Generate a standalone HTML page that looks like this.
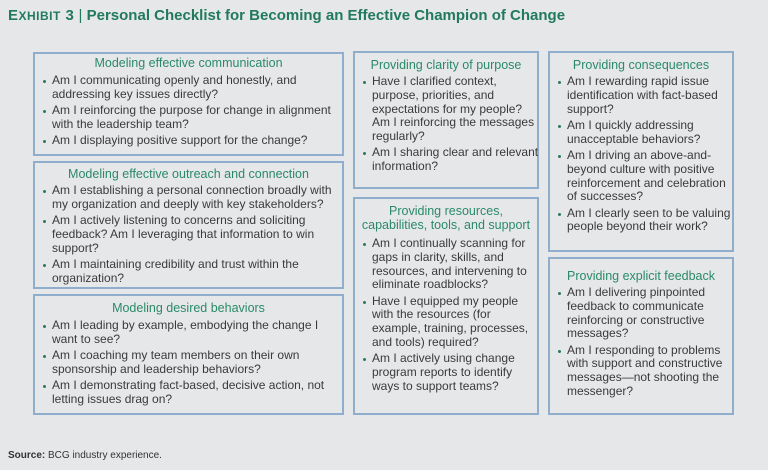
<!DOCTYPE html>
<html><head><meta charset="utf-8">
<style>
html,body{margin:0;padding:0;}
body{width:768px;height:470px;background:#e6e7e9;position:relative;overflow:hidden;font-family:"Liberation Sans",Arial,sans-serif;color:#3a3a3a;}
.title{position:absolute;left:8px;top:7px;font-size:15px;font-weight:bold;color:#217a5b;white-space:nowrap;}
.title .ex{letter-spacing:0.5px;}
.title .ex small{font-size:12px;}
.box{position:absolute;border:2px solid #8fadcc;box-sizing:border-box;background:#e6e7e9;}
.box h3{margin:0;font-weight:normal;font-size:12.5px;color:#2a8a68;text-align:center;line-height:14px;}
.item{position:relative;padding-left:13px;font-size:12px;line-height:13.8px;white-space:nowrap;margin-top:2.5px;}
.item:before{content:"";position:absolute;left:4px;top:6px;width:3px;height:3px;border-radius:50%;background:#2a7a5a;}
.src{position:absolute;left:8px;top:450px;font-size:10px;color:#333;}
</style></head><body>
<div class="title"><span class="ex">E<small>XHIBIT</small> 3</span> <span style="font-weight:normal;color:#217a5b">|</span> Personal Checklist for Becoming an Effective Champion of Change</div>

<div class="box" style="left:33px;top:52px;width:311px;height:104px;padding:2px 4px 0 4px">
<h3>Modeling effective communication</h3>
<div class="item" style="margin-top:4px">Am I communicating openly and honestly, and<br>addressing key issues directly?</div>
<div class="item">Am I reinforcing the purpose for change in alignment<br>with the leadership team?</div>
<div class="item">Am I displaying positive support for the change?</div>
</div>

<div class="box" style="left:33px;top:161px;width:311px;height:128px;padding:4px 4px 0 4px">
<h3>Modeling effective outreach and connection</h3>
<div class="item" style="margin-top:3px">Am I establishing a personal connection broadly with<br>my organization and deeply with key stakeholders?</div>
<div class="item">Am I actively listening to concerns and soliciting<br>feedback? Am I leveraging that information to win<br>support?</div>
<div class="item">Am I maintaining credibility and trust within the<br>organization?</div>
</div>

<div class="box" style="left:33px;top:294px;width:311px;height:121px;padding:5px 4px 0 4px">
<h3>Modeling desired behaviors</h3>
<div class="item" style="margin-top:4px">Am I leading by example, embodying the change I<br>want to see?</div>
<div class="item">Am I coaching my team members on their own<br>sponsorship and leadership behaviors?</div>
<div class="item">Am I demonstrating fact-based, decisive action, not<br>letting issues drag on?</div>
</div>

<div class="box" style="left:353px;top:51px;width:186px;height:138px;padding:5px 4px 0 4px">
<h3>Providing clarity of purpose</h3>
<div class="item" style="margin-top:3px">Have I clarified context,<br>purpose, priorities, and<br>expectations for my people?<br>Am I reinforcing the messages<br>regularly?</div>
<div class="item">Am I sharing clear and relevant<br>information?</div>
</div>

<div class="box" style="left:353px;top:197px;width:186px;height:218px;padding:5px 4px 0 4px">
<h3>Providing resources,<br>capabilities, tools, and support</h3>
<div class="item" style="margin-top:5px">Am I continually scanning for<br>gaps in clarity, skills, and<br>resources, and intervening to<br>eliminate roadblocks?</div>
<div class="item">Have I equipped my people<br>with the resources (for<br>example, training, processes,<br>and tools) required?</div>
<div class="item">Am I actively using change<br>program reports to identify<br>ways to support teams?</div>
</div>

<div class="box" style="left:548px;top:51px;width:186px;height:201px;padding:5px 4px 0 4px">
<h3>Providing consequences</h3>
<div class="item" style="margin-top:3px">Am I rewarding rapid issue<br>identification with fact-based<br>support?</div>
<div class="item">Am I quickly addressing<br>unacceptable behaviors?</div>
<div class="item">Am I driving an above-and-<br>beyond culture with positive<br>reinforcement and celebration<br>of successes?</div>
<div class="item">Am I clearly seen to be valuing<br>people beyond their work?</div>
</div>

<div class="box" style="left:548px;top:257px;width:186px;height:158px;padding:10px 4px 0 4px">
<h3>Providing explicit feedback</h3>
<div class="item" style="margin-top:3px">Am I delivering pinpointed<br>feedback to communicate<br>reinforcing or constructive<br>messages?</div>
<div class="item">Am I responding to problems<br>with support and constructive<br>messages—not shooting the<br>messenger?</div>
</div>

<div class="src"><b>Source:</b> BCG industry experience.</div>
</body></html>
